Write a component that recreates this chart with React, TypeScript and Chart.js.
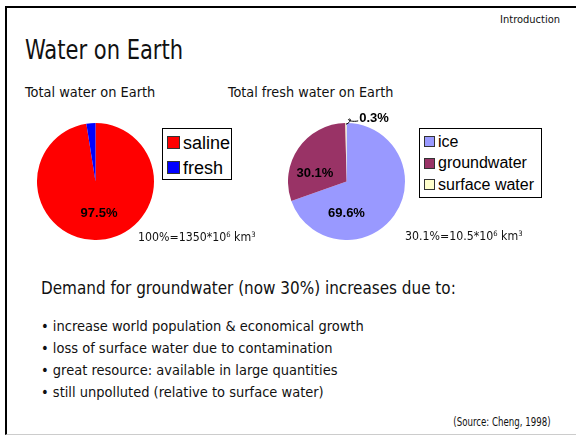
import React, { useEffect, useRef } from "react";
import { Chart, registerables } from "chart.js";

Chart.register(...registerables);

// Share of all water on Earth
const totalLabels = ["saline", "fresh"];
const totalValues = [97.5, 2.5];
const totalColors = ["#FF0000", "#0000FF"];

// Share of fresh water on Earth
const freshLabels = ["ice", "groundwater", "surface water"];
const freshValues = [69.6, 30.1, 0.3];
const freshColors = ["#9999FF", "#993366", "#FFFFCC"];

const bullets = [
  "increase world population & economical growth",
  "loss of surface water due to contamination",
  "great resource: available in large quantities",
  "still unpolluted (relative to surface water)",
];

const SLIDE_FONT = "'DejaVu Sans Condensed', 'Liberation Sans', sans-serif";
const CHART_FONT = "'Liberation Sans', Arial, sans-serif";

type LabelSpot = { dx: number; dy: number; leader?: boolean } | null;

// Draws percentage labels at spots given relative to the pie radius
const sliceLabels = {
  id: "sliceLabels",
  afterDatasetsDraw(chart: any, _args: any, opts: any) {
    const spots: LabelSpot[] = opts.spots || [];
    const meta = chart.getDatasetMeta(0);
    const values = chart.data.datasets[0].data as number[];
    const ctx = chart.ctx;
    ctx.save();
    ctx.font = `bold 13px ${CHART_FONT}`;
    ctx.fillStyle = "#000";
    ctx.textAlign = "center";
    ctx.textBaseline = "middle";
    meta.data.forEach((arc: any, i: number) => {
      const s = spots[i];
      if (!s) return;
      const r = arc.outerRadius;
      const x = arc.x + s.dx * r;
      const y = arc.y + s.dy * r;
      const text = `${values[i].toFixed(1)}%`;
      if (s.leader) {
        const mid = (arc.startAngle + arc.endAngle) / 2;
        const ax = arc.x + Math.cos(mid) * r * 0.98;
        const ay = arc.y + Math.sin(mid) * r * 0.98;
        const w = ctx.measureText(text).width;
        const ex = x - w / 2 - 1;
        const ey = y + 2;
        ctx.strokeStyle = "#000";
        ctx.lineWidth = 1;
        ctx.beginPath();
        ctx.moveTo(ax, ay);
        ctx.bezierCurveTo(ax + 4, ay - 1, ax + 6, ay - 6, ax + 3, ay - 5);
        ctx.bezierCurveTo(ax + 1, ay - 4, ax + 6, ay - 2, ex, ey);
        ctx.stroke();
      }
      ctx.fillText(text, x, y);
    });
    ctx.restore();
  },
};

function PieChart(props: {
  labels: string[];
  values: number[];
  colors: string[];
  spots: LabelSpot[];
  padTop: number;
  style: React.CSSProperties;
}) {
  const ref = useRef<HTMLCanvasElement | null>(null);
  useEffect(() => {
    if (!ref.current) return;
    const chart = new Chart(ref.current, {
      type: "pie",
      data: {
        labels: props.labels,
        datasets: [
          {
            data: props.values,
            backgroundColor: props.colors,
            borderWidth: 0,
          },
        ],
      },
      options: {
        animation: false,
        responsive: false,
        maintainAspectRatio: false,
        layout: { padding: { top: props.padTop, left: 0, right: 0, bottom: 0 } },
        plugins: {
          legend: { display: false },
          tooltip: { enabled: false },
          sliceLabels: { spots: props.spots },
        } as any,
      },
      plugins: [sliceLabels],
    });
    return () => chart.destroy();
  }, []);
  const w = props.style.width as number;
  const h = props.style.height as number;
  return <canvas ref={ref} width={w} height={h} style={{ position: "absolute", ...props.style }} />;
}

function Legend(props: {
  labels: string[];
  colors: string[];
  box: number;
  size: number;
  gap: number;
  style: React.CSSProperties;
}) {
  return (
    <div
      style={{
        position: "absolute",
        border: "1px solid #000",
        boxSizing: "border-box",
        fontFamily: CHART_FONT,
        fontSize: props.size,
        color: "#000",
        ...props.style,
      }}
    >
      {props.labels.map((l, i) => (
        <div
          key={l}
          style={{ display: "flex", alignItems: "center", height: props.gap, whiteSpace: "nowrap" }}
        >
          <span
            style={{
              display: "inline-block",
              width: props.box,
              height: props.box,
              background: props.colors[i],
              border: "1px solid #333",
              boxSizing: "border-box",
              marginRight: 3,
            }}
          />
          <span style={{ lineHeight: 1 }}>{l}</span>
        </div>
      ))}
    </div>
  );
}

const text = (
  left: number,
  top: number,
  size: number,
  squeeze = 1,
  extra: React.CSSProperties = {}
) =>
  ({
    position: "absolute",
    left,
    top,
    fontSize: size,
    lineHeight: 1,
    whiteSpace: "nowrap",
    fontFamily: SLIDE_FONT,
    color: "#111",
    transform: `scaleX(${squeeze})`,
    transformOrigin: extra.right !== undefined ? "right center" : "left center",
    ...extra,
  }) as React.CSSProperties;

const sup: React.CSSProperties = { fontSize: "0.62em", verticalAlign: "0.55em" };

export default function App() {
  useEffect(() => {
    document.body.style.margin = "0";
  }, []);
  return (
    <div
      style={{
        position: "fixed",
        left: 0,
        top: 0,
        width: 576,
        height: 436,
        background: "#fff",
        overflow: "hidden",
      }}
    >
      {/* slide frame */}
      <div
        style={{
          position: "absolute",
          left: 5,
          top: 6,
          right: 0,
          bottom: 1,
          borderLeft: "2px solid #000",
          borderTop: "2px solid #000",
          borderBottom: "1px solid #ccc",
        }}
      />
      <div style={text(0, 14, 11, 1, { left: "auto", right: 16 })}>Introduction</div>
      <div style={text(25, 37, 26, 0.9)}>Water on Earth</div>
      <div style={text(25, 85, 14, 1.03)}>Total water on Earth</div>
      <div style={text(228, 85, 14, 1.02)}>Total fresh water on Earth</div>

      <PieChart
        labels={totalLabels}
        values={totalValues}
        colors={totalColors}
        spots={[{ dx: 0.06, dy: 0.55 }, null]}
        padTop={0}
        style={{ left: 37, top: 123, width: 117, height: 117 }}
      />
      <Legend
        labels={totalLabels}
        colors={totalColors}
        box={13}
        size={18}
        gap={25}
        style={{ left: 162, top: 128, width: 70, height: 52, padding: "1px 0 0 4px" }}
      />
      <div style={text(138, 231, 12, 1.02)}>
        100%=1350*10<span style={sup}>6</span> km<span style={sup}>3</span>
      </div>

      <PieChart
        labels={freshLabels}
        values={freshValues}
        colors={freshColors}
        spots={[{ dx: 0.0, dy: 0.55 }, { dx: -0.54, dy: -0.14 }, { dx: 0.47, dy: -1.07, leader: true }]}
        padTop={20}
        style={{ left: 288, top: 103, width: 117, height: 137 }}
      />
      <Legend
        labels={freshLabels}
        colors={freshColors}
        box={11}
        size={16}
        gap={21.5}
        style={{ left: 419, top: 128, width: 123, height: 70, padding: "2px 0 0 4px" }}
      />
      <div style={text(405, 230, 12, 1.02)}>
        30.1%=10.5*10<span style={sup}>6</span> km<span style={sup}>3</span>
      </div>

      <div style={text(41, 279, 18, 0.94)}>Demand for groundwater (now 30%) increases due to:</div>
      {bullets.map((b, i) => (
        <div key={b} style={text(41, 319 + i * 22, 14, 1.035)}>
          • {b}
        </div>
      ))}
      <div style={text(0, 416, 12, 0.8, { left: "auto", right: 25 })}>(Source: Cheng, 1998)</div>
    </div>
  );
}
